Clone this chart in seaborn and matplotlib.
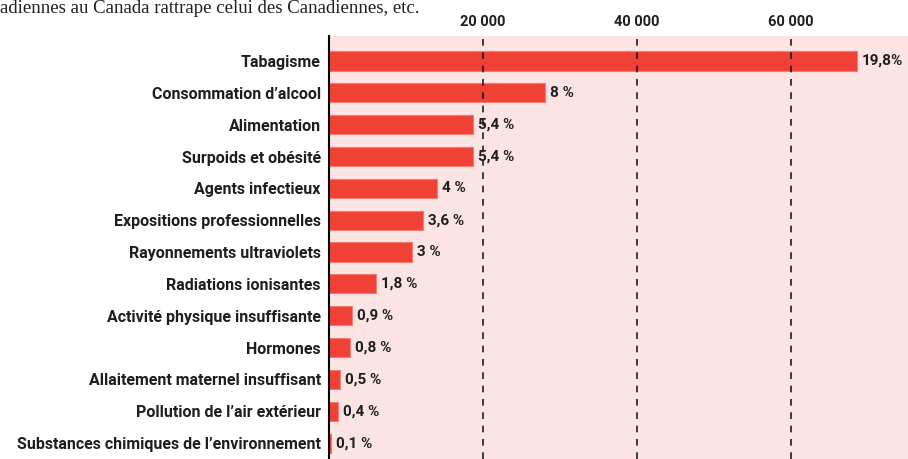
import matplotlib
matplotlib.use('Agg')
import matplotlib.pyplot as plt
import seaborn as sns
import pandas as pd

# -- Data ---------------------------------------------------------------------
causes = [
    'Tabagisme', 'Consommation d\u2019alcool', 'Alimentation',
    'Surpoids et obésité', 'Agents infectieux',
    'Expositions professionnelles', 'Rayonnements ultraviolets',
    'Radiations ionisantes', 'Activité physique insuffisante', 'Hormones',
    'Allaitement maternel insuffisant', 'Pollution de l\u2019air extérieur',
    'Substances chimiques de l\u2019environnement',
]
cases = [68570, 28050, 18700, 18700, 14030, 12200, 10780,
         6100, 2990, 2730, 1430, 1170, 260]
pct_labels = ['19,8%', '8 %', '5,4 %', '5,4 %', '4 %', '3,6 %', '3 %',
              '1,8 %', '0,9 %', '0,8 %', '0,5 %', '0,4 %', '0,1 %']
x_ticks = [20000, 40000, 60000]
x_tick_labels = ['20 000', '40 000', '60 000']

df = pd.DataFrame({'cause': causes, 'cases': cases})

# -- Style --------------------------------------------------------------------
sns.set_style('white')
plt.rcParams['font.family'] = ['Roboto', 'DejaVu Sans']

BAR = '#EF4136'
BG = '#FCE4E4'
INK = '#1e1e1e'

fig = plt.figure(figsize=(9.08, 4.59), dpi=100)
ax = fig.add_axes([329 / 908, 0.0, 1 - 329 / 908, 1 - 36 / 459])
ax.set_facecolor(BG)

sns.barplot(data=df, y='cause', x='cases', order=causes, color=BAR,
            width=0.6, saturation=1, edgecolor='#F47B72', linewidth=0.8,
            ax=ax, zorder=2)

ax.set_xlim(0, 75200)
ax.set_ylim(12.5, -0.785)

# dashed reference lines
for t in x_ticks:
    ax.axvline(t, color=INK, linestyle=(0, (4, 4)), linewidth=1.2, zorder=3)

ax.xaxis.tick_top()
ax.set_xticks(x_ticks)
ax.set_xticklabels(x_tick_labels, fontsize=10.5, fontweight='semibold', color=INK)
ax.tick_params(axis='x', length=0, pad=5)
ax.tick_params(axis='y', length=0, pad=6, labelsize=11.5, labelcolor=INK)
for lab in ax.get_yticklabels():
    lab.set_fontweight('semibold')
ax.set_xlabel('')
ax.set_ylabel('')

for s in ['top', 'right', 'bottom']:
    ax.spines[s].set_visible(False)
ax.spines['left'].set_color('black')
ax.spines['left'].set_linewidth(1.5)
ax.spines['left'].set_zorder(4)

# value labels
for i, (v, lab) in enumerate(zip(cases, pct_labels)):
    ax.text(v + 650, i, lab, va='center', ha='left', fontsize=11,
            fontweight='semibold', color=INK, zorder=5)

# caption line at the top
fig.text(0.0, 1 - 13 / 459,
         'adiennes au Canada rattrape celui des Canadiennes, etc.',
         fontsize=13.5, family='Liberation Serif', color=INK, va='baseline')

fig.savefig('out.png', dpi=100)
